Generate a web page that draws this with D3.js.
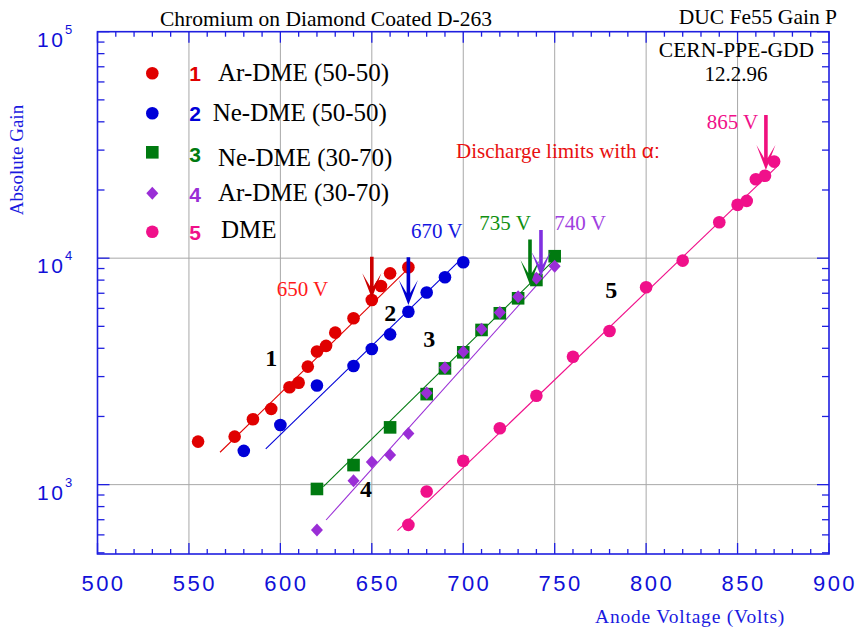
<!DOCTYPE html>
<html><head><meta charset="utf-8">
<script src="https://cdn.jsdelivr.net/npm/d3@7"></script>
<style>body{margin:0;background:#fff}</style>
</head><body><svg id="c" width="858" height="629"></svg>
<script>
// ---------- data ----------
const xTicks = [500, 550, 600, 650, 700, 750, 800, 850, 900];
const yDecades = [1000, 10000, 100000];
const yDecadeExp = ["3", "4", "5"];

const v1 = [555, 575, 585, 595, 605, 610, 615, 620, 625, 630, 640, 650, 655, 660, 670];
const g1 = [1549, 1630, 1944, 2160, 2690, 2820, 3320, 3870, 4100, 4690, 5430, 6540, 7540, 8570, 9120];

const v2 = [580, 600, 620, 640, 650, 660, 670, 680, 690, 700];
const g2 = [1410, 1835, 2740, 3340, 3970, 4610, 5800, 7050, 8240, 9590];

const v3 = [620, 640, 660, 680, 690, 700, 710, 720, 730, 740, 750];
const g3 = [957, 1220, 1790, 2510, 3260, 3840, 4820, 5710, 6650, 8010, 10200];

const v4 = [620, 640, 650, 660, 670, 680, 690, 700, 710, 720, 730, 740, 750];
const g4 = [631, 1040, 1260, 1350, 1680, 2540, 3280, 3860, 4850, 5750, 6760, 8150, 9220];

const v5 = [670, 680, 700, 720, 740, 760, 780, 800, 820, 840, 850, 855, 860, 865, 870];
const g5 = [664, 932, 1275, 1775, 2470, 3670, 4770, 7440, 9750, 14400, 17200, 17900, 22300, 23100, 26700];

// fitted lines: [start, end]
const fitV = [[567, 671], [592, 697], [623.5, 749], [625, 750], [664, 872.5]];
const fitG = [[1390, 9170], [1440, 9590], [980, 9700], [698, 9310], [626, 25800]];

const seriesNum = ["1", "2", "3", "4", "5"];
const seriesNames = ["Ar-DME (50-50)", "Ne-DME (50-50)", "Ne-DME (30-70)", "Ar-DME (30-70)", "DME"];
const seriesShapes = ["circle", "circle", "square", "diamond", "circle"];
const seriesColors = ["#e00000", "#0000d8", "#007a10", "#9a2ed6", "#f0108a"];

// discharge-limit arrows
const arrowLabels = ["650 V", "670 V", "735 V", "740 V", "865 V"];
const arrowV = [650, 670, 736.5, 742.5, 865.5];
const arrowTopG = [10150, 10100, 12100, 13300, 42900];
const arrowTipG = [6650, 6210, 7620, 8280, 24500];
const arrowColors = ["#cc0000", "#0000d0", "#007a10", "#8030e0", "#f0107f"];
const labelV = [598, 671.4, 708.8, 749.8, 833.1];
const labelG = [6790, 12300, 13300, 13300, 37200];
const labelColors = ["#ff1a1a", "#1515e0", "#109010", "#a040e0", "#f0108a"];

// series number labels inside plot
const numV = [591.7, 656.8, 678.1, 643.6, 777.7];
const numG = [3340, 5280, 4050, 882, 6670];

// ---------- layout ----------
const L = 97.5, R = 829, T = 31.7, B = 554;
const svg = d3.select("#c");
const x = d3.scaleLinear().domain([500, 900]).range([L, R]);
const y = d3.scaleLog().domain([494, 100000]).range([B, T]);
const axisBlue = "#1f1fe0";
const serif = "'Liberation Serif', 'Times New Roman', serif";
const sans = "'Liberation Sans', Arial, sans-serif";

// grid
const g = svg.append("g");
g.selectAll(".vg").data(xTicks.slice(1, -1)).join("line")
  .attr("x1", d => x(d)).attr("x2", d => x(d)).attr("y1", T).attr("y2", B)
  .attr("stroke", "#a8a8a8").attr("stroke-width", 1);
g.selectAll(".hg").data(yDecades.slice(0, 2)).join("line")
  .attr("x1", L).attr("x2", R).attr("y1", d => y(d)).attr("y2", d => y(d))
  .attr("stroke", "#a8a8a8").attr("stroke-width", 1);

// ticks
const xMinor = d3.range(500, 901, 10).filter(v => v % 50 !== 0);
const yMinor = [];
[100, 1000, 10000].forEach(dec => { for (let k = 2; k <= 9; k++) { const v = dec * k; if (v >= 500 && v < 100000) yMinor.push(v); } });
const tk = svg.append("g").attr("stroke", axisBlue).attr("stroke-width", 1.3);
[[B, -1], [T, 1]].forEach(([yy, s]) => {
  tk.selectAll(null).data(xTicks).join("line").attr("x1", d => x(d)).attr("x2", d => x(d)).attr("y1", yy).attr("y2", yy + s * 11);
  tk.selectAll(null).data(xMinor).join("line").attr("x1", d => x(d)).attr("x2", d => x(d)).attr("y1", yy).attr("y2", yy + s * 5);
});
[[L, 1], [R, -1]].forEach(([xx, s]) => {
  tk.selectAll(null).data(yDecades).join("line").attr("y1", d => y(d)).attr("y2", d => y(d)).attr("x1", xx).attr("x2", xx + s * 12);
  tk.selectAll(null).data(yMinor).join("line").attr("y1", d => y(d)).attr("y2", d => y(d)).attr("x1", xx).attr("x2", xx + s * 7);
});
svg.append("rect").attr("x", L).attr("y", T).attr("width", R - L).attr("height", B - T)
  .attr("fill", "none").attr("stroke", axisBlue).attr("stroke-width", 1.6);

// tick labels
svg.selectAll(".xl").data(xTicks).join("text")
  .attr("x", d => x(d) + 6).attr("y", 591).attr("text-anchor", "middle")
  .attr("font-family", sans).attr("font-size", 22).attr("letter-spacing", 2.5)
  .attr("fill", "#1010d8").text(d => d);
yDecades.forEach((d, i) => {
  const t = svg.append("text").attr("x", 37).attr("y", y(d) + 15)
    .attr("font-family", sans).attr("font-size", 21).attr("fill", "#1010d8");
  t.append("tspan").text("1");
  t.append("tspan").attr("dx", 2.5).text("0");
  svg.append("text").attr("x", 65).attr("y", y(d) + 2)
    .attr("font-family", sans).attr("font-size", 13).attr("fill", "#1010d8").text(yDecadeExp[i]);
});

// axis titles
svg.append("text").attr("x", 595).attr("y", 623).attr("font-family", serif).attr("font-size", 19.5)
  .attr("letter-spacing", 0.8).attr("fill", "#1a1ae0").text("Anode Voltage (Volts)");
svg.append("text").attr("transform", "translate(23,160) rotate(-90)").attr("text-anchor", "middle")
  .attr("font-family", serif).attr("font-size", 19).attr("fill", "#1a1ae0").text("Absolute Gain");

// titles
svg.append("text").attr("x", 160).attr("y", 26).attr("font-family", serif).attr("font-size", 21.5).attr("fill", "#000")
  .text("Chromium on Diamond Coated D-263");
svg.append("text").attr("x", 837).attr("y", 24).attr("text-anchor", "end").attr("font-family", serif).attr("font-size", 21.5).attr("fill", "#000")
  .text("DUC Fe55 Gain P");
svg.append("text").attr("x", 736.5).attr("y", 56.5).attr("text-anchor", "middle").attr("font-family", serif).attr("font-size", 21.5).attr("fill", "#000")
  .text("CERN-PPE-GDD");
svg.append("text").attr("x", 736).attr("y", 80.5).attr("text-anchor", "middle").attr("font-family", serif).attr("font-size", 21).attr("fill", "#000")
  .text("12.2.96");

// marker drawer
function marker(sel, shape, color, cx, cy) {
  if (shape === "circle") sel.append("circle").attr("cx", cx).attr("cy", cy).attr("r", 6.3).attr("fill", color);
  else if (shape === "square") sel.append("rect").attr("x", cx - 6.3).attr("y", cy - 6.3).attr("width", 12.6).attr("height", 12.6).attr("fill", color);
  else sel.append("path").attr("d", `M${cx},${cy - 6.5}L${cx + 6},${cy}L${cx},${cy + 6.5}L${cx - 6},${cy}Z`).attr("fill", color);
}

// fit lines
const fl = svg.append("g");
fitV.forEach((fv, i) => {
  fl.append("line").attr("x1", x(fv[0])).attr("y1", y(fitG[i][0])).attr("x2", x(fv[1])).attr("y2", y(fitG[i][1]))
    .attr("stroke", seriesColors[i]).attr("stroke-width", 1.1);
});

// points
const allV = [v1, v2, v3, v4, v5], allG = [g1, g2, g3, g4, g5];
const pts = svg.append("g");
allV.forEach((vs, i) => {
  vs.forEach((v, j) => marker(pts, seriesShapes[i], seriesColors[i], x(v), y(allG[i][j])));
});

// series numbers in plot
svg.selectAll(".sn").data(seriesNum).join("text")
  .attr("x", (d, i) => x(numV[i])).attr("y", (d, i) => y(numG[i]))
  .attr("font-family", serif).attr("font-weight", "bold").attr("font-size", 24).attr("fill", "#000").text(d => d);

// arrows
arrowV.forEach((v, i) => {
  const cx = x(v), top = y(arrowTopG[i]), tip = y(arrowTipG[i]);
  const hl = 25, hw = 9.5, sw = 1.8;
  svg.append("path").attr("fill", arrowColors[i])
    .attr("d", `M${cx},${tip}L${cx + hw},${tip - hl}L${cx + sw},${tip - 12}L${cx + sw},${top}L${cx - sw},${top}L${cx - sw},${tip - 12}L${cx - hw},${tip - hl}Z`);
  svg.append("text").attr("x", x(labelV[i])).attr("y", y(labelG[i])).attr("font-family", serif).attr("font-size", 21)
    .attr("fill", labelColors[i]).text(arrowLabels[i]);
});
const dl = svg.append("text").attr("x", x(696.1)).attr("y", y(27800)).attr("font-family", serif).attr("font-size", 21).attr("fill", "#e81010");
dl.append("tspan").text("Discharge limits with ");
dl.append("tspan").attr("font-family", sans).text("α:");

// legend
const legY = [73.3, 113.3, 152.3, 193.3, 231.7];
const legTextX = [218, 212.7, 218, 218, 221];
const legTextY = [80.7, 120.7, 166, 200.7, 238];
const legNumY = [80.7, 120.7, 161.7, 201.7, 240];
seriesNames.forEach((nm, i) => {
  marker(svg, seriesShapes[i], seriesColors[i], 152.3, legY[i]);
  svg.append("text").attr("x", 195).attr("y", legNumY[i]).attr("text-anchor", "middle")
    .attr("font-family", sans).attr("font-weight", "bold").attr("font-size", 21).attr("fill", seriesColors[i]).text(seriesNum[i]);
  svg.append("text").attr("x", legTextX[i]).attr("y", legTextY[i]).attr("font-family", serif).attr("font-size", 25)
    .attr("fill", "#000").text(nm);
});
</script>
</body></html>
